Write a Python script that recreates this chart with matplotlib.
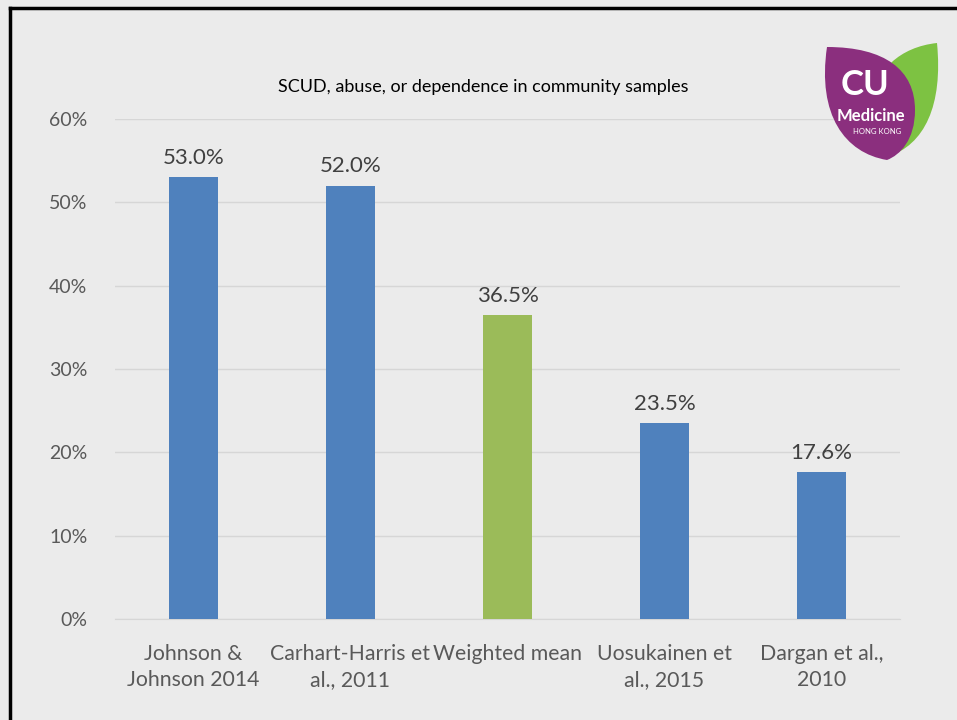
import matplotlib
matplotlib.use('Agg')
import matplotlib.pyplot as plt
from matplotlib.patches import PathPatch
from matplotlib.path import Path
from matplotlib.ticker import FuncFormatter

categories = ['Johnson &\nJohnson 2014', 'Carhart-Harris et\nal., 2011', 'Weighted mean',
              'Uosukainen et\nal., 2015', 'Dargan et al.,\n2010']
values = [53.0, 52.0, 36.5, 23.5, 17.6]
bar_colors = ['#4f81bd', '#4f81bd', '#9bbb59', '#4f81bd', '#4f81bd']
title = 'SCUD, abuse, or dependence in community samples'

plt.rcParams['font.family'] = ['Lato', 'DejaVu Sans']

W, H = 957, 720
fig = plt.figure(figsize=(W / 100, H / 100), dpi=100)
fig.patch.set_facecolor('#ebebeb')

# slide frame (left and top edges only)
fig.add_artist(plt.Line2D([10 / W, 10 / W], [0, 1 - 8 / H], color='black', lw=2.5))
fig.add_artist(plt.Line2D([10 / W, 1.01], [1 - 8 / H, 1 - 8 / H], color='black', lw=2.5))

ax = fig.add_axes([115 / W, 1 - 619 / H, 785 / W, 500 / H])
ax.set_facecolor('none')
x = range(len(categories))
bars = ax.bar(x, values, width=0.31, color=bar_colors, zorder=3)
for b, v in zip(bars, values):
    ax.text(b.get_x() + b.get_width() / 2, v + 1.1, f'{v:.1f}%', ha='center', va='bottom',
            fontsize=16, color='#404040')

ax.set_xlim(-0.5, len(categories) - 0.5)
ax.set_ylim(0, 60)
ax.set_yticks(range(0, 61, 10))
ax.yaxis.set_major_formatter(FuncFormatter(lambda v, p: f'{v:.0f}%'))
ax.grid(axis='y', color='#d6d6d6', lw=1, zorder=0)
ax.set_xticks(list(x))
ax.set_xticklabels(categories, fontsize=15.3, color='#595959', linespacing=1.35)
ax.tick_params(axis='y', labelsize=14, colors='#595959', length=0, pad=20)
ax.tick_params(axis='x', length=0, pad=18)
for s in ax.spines.values():
    s.set_visible(False)
ax.spines['bottom'].set_visible(True)
ax.spines['bottom'].set_color('#d6d6d6')

fig.text(483 / W, 1 - 87 / H, title, ha='center', va='center', fontsize=13, color='black')

# rough CU Medicine logo (two leaves)
logo = fig.add_axes([815 / W, 1 - 165 / H, 130 / W, 125 / H])
logo.set_xlim(0, 130)
logo.set_ylim(0, 125)
logo.axis('off')
C = Path.CURVE4
green = Path([(122, 122), (85, 118), (60, 95), (55, 60), (50, 30), (60, 12), (72, 8),
              (110, 20), (128, 60), (122, 122)],
             [Path.MOVETO, C, C, C, C, C, C, C, C, C])
logo.add_patch(PathPatch(green, facecolor='#7dc242', edgecolor='none'))
purple = Path([(12, 118), (70, 118), (100, 95), (100, 55), (100, 25), (85, 10), (72, 5),
               (30, 12), (2, 50), (12, 118)],
              [Path.MOVETO, C, C, C, C, C, C, C, C, C])
logo.add_patch(PathPatch(purple, facecolor='#8b2f7e', edgecolor='none'))
logo.text(50, 80, 'CU', ha='center', va='center', fontsize=25, fontweight='bold', color='white')
logo.text(56, 49, 'Medicine', ha='center', va='center', fontsize=12, fontweight='bold', color='white')
logo.text(62, 34, 'HONG KONG', ha='center', va='center', fontsize=5.5, color='white')

fig.savefig('out.png', dpi=100, facecolor=fig.get_facecolor())
